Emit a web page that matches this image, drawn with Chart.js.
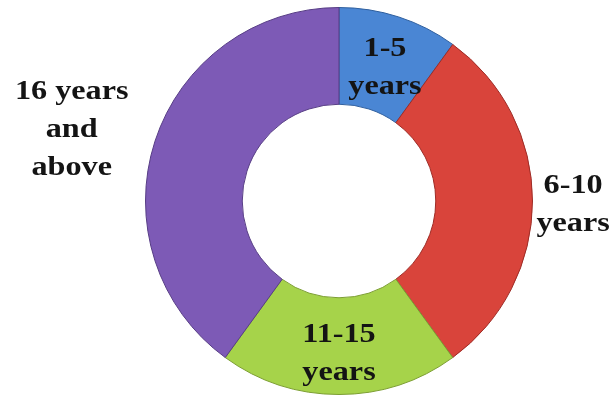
<!DOCTYPE html>
<html lang="en">
<head>
    <meta charset="UTF-8">
    <title>Experience</title>
    <style>
        body {
            margin: 0;
            background: #ffffff;
        }
        #chart-container {
            width: 612px;
            height: 402px;
        }
    </style>
</head>
<body>
    <div id="chart-container">
        <canvas id="donutChart" width="612" height="402"></canvas>
    </div>
    <script src="https://cdn.jsdelivr.net/npm/chart.js@4.4.0/dist/chart.umd.min.js"></script>
    <script>
        // data (percent of respondents)
        const categories = ['1-5 years', '6-10 years', '11-15 years', '16 years and above'];
        const labelLines = [['1-5', 'years'], ['6-10', 'years'], ['11-15', 'years'], ['16 years', 'and', 'above']];
        const shares = [10, 30, 20, 40];

        const fills = ['#4a86d4', '#d9443b', '#a6d34a', '#7d5ab6'];
        const edges = ['#2f5f9e', '#9e2c26', '#7c9e32', '#573d85'];

        // label placement: distance from centre (fraction of outer radius) and angle nudge in degrees
        const labelRadius = [0.73, 1.21, 0.79, 1.43];
        const labelNudge = [1, 1, 0, -3];

        const sliceLabels = {
            id: 'sliceLabels',
            afterDatasetsDraw(chart) {
                const ctx = chart.ctx;
                const arcs = chart.getDatasetMeta(0).data;
                ctx.save();
                ctx.font = 'bold 28px "Liberation Serif", "Times New Roman", serif';
                ctx.fillStyle = '#141414';
                ctx.textAlign = 'center';
                ctx.textBaseline = 'middle';
                arcs.forEach((arc, i) => {
                    const p = arc.getProps(['x', 'y', 'startAngle', 'endAngle', 'outerRadius'], true);
                    const mid = (p.startAngle + p.endAngle) / 2 + labelNudge[i] * Math.PI / 180;
                    const r = p.outerRadius * labelRadius[i];
                    const cx = p.x + Math.cos(mid) * r;
                    const cy = p.y + Math.sin(mid) * r;
                    const lines = labelLines[i];
                    const step = 38;
                    lines.forEach((line, j) => {
                        ctx.save();
                        ctx.translate(cx, cy + (j - (lines.length - 1) / 2) * step);
                        ctx.scale(1.15, 1);   // the original lettering is a bit wide
                        ctx.fillText(line, 0, 0);
                        ctx.restore();
                    });
                });
                ctx.restore();
            }
        };

        new Chart(document.getElementById('donutChart'), {
            type: 'doughnut',
            data: {
                labels: categories,
                datasets: [{
                    data: shares,
                    backgroundColor: fills,
                    borderColor: edges,
                    borderWidth: 1
                }]
            },
            options: {
                responsive: false,
                animation: false,
                cutout: '50%',
                layout: { padding: { left: 66, right: 0, top: 7, bottom: 7 } },
                plugins: {
                    legend: { display: false },
                    tooltip: { enabled: false }
                }
            },
            plugins: [sliceLabels]
        });
    </script>
</body>
</html>
